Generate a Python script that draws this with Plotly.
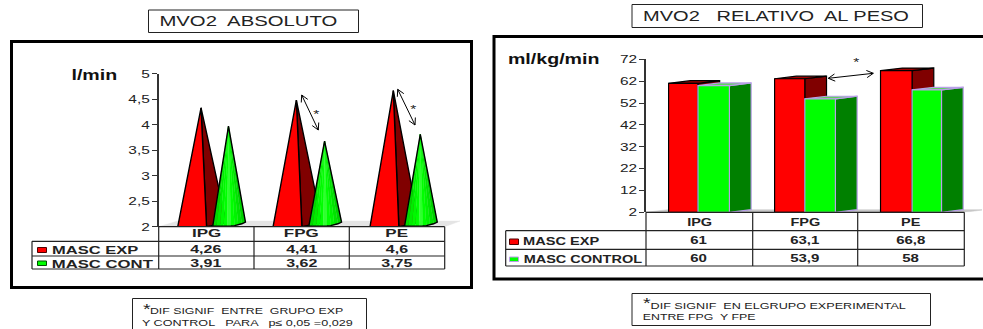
import json
import math
import plotly.graph_objects as go

W, H = 983, 329

categories = ["IPG", "FPG", "PE"]
abs_exp = [4.26, 4.41, 4.6]
abs_cont = [3.91, 3.62, 3.75]
rel_exp = [61, 63.1, 66.8]
rel_cont = [60, 53.9, 58]

abs_ticks = [2, 2.5, 3, 3.5, 4, 4.5, 5]
abs_ticktext = ["2", "2,5", "3", "3,5", "4", "4,5", "5"]
rel_ticks = [2, 12, 22, 32, 42, 52, 62, 72]

FONT = "Liberation Sans"
RED, DARK_RED = "#ff0000", "#800000"
GREEN, DARK_GREEN = "#00ff00", "#008000"
LAVENDER = "#b99fe8"
INK = "#222222"
CONE_SHADES = ["#00d800", "#00ec00", "#00f800", "#00ff00", "#30ff30",
               "#00ff00", "#00f400", "#00e400", "#00d000"]


def px(x):
    return x / W


def py(y):
    return 1 - y / H


def comma(v):
    return str(v).replace(".", ",")


fig = go.Figure()


def poly(xs, ys, fill, line, width, axes):
    fig.add_trace(go.Scatter(
        x=xs + xs[:1], y=ys + ys[:1], mode="lines", fill="toself",
        fillcolor=fill, line=dict(color=line, width=width),
        hoverinfo="skip", showlegend=False, xaxis=axes[0], yaxis=axes[1]))


# Left panel: cones standing on a grey floor
ABS = ("x", "y")
poly([0, 0.2, 3.16, 3.0], [2, 2.11, 2.11, 2], "#e4e4e4", "#e4e4e4", 0.5, ABS)
red_shift = [0, 0, 0.017]
green_shift = [0, 0.008, 0.012]
for i, (a, b) in enumerate(zip(abs_exp, abs_cont)):
    s = i + red_shift[i]
    tip = a + 0.07
    poly([s + 0.444, s + 0.502, s + 0.71], [tip, 2, 2.08], DARK_RED, "black", 1.4, ABS)
    poly([s + 0.2, s + 0.444, s + 0.502], [2, tip, 2], RED, "black", 1.4, ABS)

    s = i + green_shift[i]
    tip = b + 0.06
    left, right, top_x = s + 0.567, s + 0.91, s + 0.732
    n = len(CONE_SHADES)
    base = []
    for k in range(n + 1):
        t = k / n
        base.append((left + (right - left) * t, 2 + 0.012 * (1 - t) + 0.09 * t ** 4))
    for k, shade in enumerate(CONE_SHADES):
        poly([top_x, base[k][0], base[k + 1][0]], [tip, base[k][1], base[k + 1][1]],
             shade, shade, 0.3, ABS)
    outline_x = [p[0] for p in base] + [top_x, base[0][0]]
    outline_y = [p[1] for p in base] + [tip, base[0][1]]
    fig.add_trace(go.Scatter(x=outline_x, y=outline_y, mode="lines",
                             line=dict(color="black", width=1.4),
                             hoverinfo="skip", showlegend=False))

# Right panel: extruded bars
REL = ("x2", "y2")
DX, DY = 0.205, 1.2
poly([0, DX, 3.2, 3.0], [2, 2 + DY, 2 + DY, 2], "#c8c8c8", "#c8c8c8", 0.5, REL)
red_left = [0.213, 0.213, 0.2125]
split = [0.49, 0.498, 0.51]
green_right = [0.787, 0.787, 0.7875]


def bar(x0, x1, v, front, side, top, edge):
    poly([x1, x1 + DX, x1 + DX, x1], [2, 2 + DY, v + DY, v], side, edge, 1.2, REL)
    poly([x0, x0 + DX, x1 + DX, x1], [v, v + DY, v + DY, v], top, edge, 1.2, REL)
    poly([x0, x1, x1, x0], [2, 2, v, v], front, edge, 1.2, REL)


for i, (a, b) in enumerate(zip(rel_exp, rel_cont)):
    bar(i + red_left[i], i + split[i], a, RED, DARK_RED, "#a00000", "black")
    bar(i + split[i], i + green_right[i], b, GREEN, DARK_GREEN, "#60d060", LAVENDER)

shapes = []


def rect(x0, y0, x1, y1, color="black", width=1.0):
    shapes.append(dict(type="rect", xref="paper", yref="paper",
                       x0=px(x0), y0=py(y0), x1=px(x1), y1=py(y1),
                       line=dict(color=color, width=width)))


def seg(x0, y0, x1, y1, color=INK, width=1.2):
    shapes.append(dict(type="line", xref="paper", yref="paper",
                       x0=px(x0), y0=py(y0), x1=px(x1), y1=py(y1),
                       line=dict(color=color, width=width)))


def swatch(x0, y0, x1, y1, fill, edge):
    shapes.append(dict(type="rect", xref="paper", yref="paper",
                       x0=px(x0), y0=py(y0), x1=px(x1), y1=py(y1),
                       fillcolor=fill, line=dict(color=edge, width=1)))


def double_arrow(x0, y0, x1, y1, head=7.5, spread=0.5):
    seg(x0, y0, x1, y1, "black", 1)
    ang = math.atan2(y1 - y0, x1 - x0)
    for (xa, ya, base) in ((x0, y0, ang), (x1, y1, ang + math.pi)):
        for d in (-spread, spread):
            seg(xa, ya, xa + head * math.cos(base + d), ya + head * math.sin(base + d), "black", 1)


def table(xs, ys, left):
    for y in ys:
        seg(xs[0], y, xs[-1], y)
    for y in ys[1:]:
        seg(left, y, xs[0], y)
    for x in xs:
        seg(x, ys[0], x, ys[-1])
    seg(left, ys[1], left, ys[-1])


# Outer frames and caption boxes
rect(11.5, 41.5, 471.5, 287.5, "black", 3)
rect(494, 36.5, 995, 279, "black", 3)
rect(148.5, 10, 358.5, 32.5, "#222222", 1)
rect(632, 4.5, 922.5, 27.5, "#222222", 1)
rect(132.5, 298.5, 366.5, 340, "#222222", 1)
rect(632, 293.5, 930.5, 325.5, "#222222", 1)

abs_cells = [158.7, 254, 349.3, 444.7]
rel_cells = [646, 752.7, 857.7, 964.3]
table(abs_cells, [226.7, 241.3, 256, 269], 32)
table(rel_cells, [212.3, 230.7, 249.3, 266], 505.7)

swatch(37.5, 247.5, 46.5, 252.5, RED, "#500000")
swatch(37.5, 261, 46.5, 265.5, GREEN, "#005000")
swatch(509.5, 239, 518.5, 244.5, RED, "#500000")
swatch(509.5, 257, 518.5, 261.5, GREEN, LAVENDER)

double_arrow(301.7, 95, 318.3, 130)
double_arrow(397.7, 89.3, 415, 125)
double_arrow(828.3, 78.3, 873.3, 73.3)

notes = []
stretches = []


def label(text, x, y, size=10, bold=False, color=INK, stretch=1.4):
    notes.append(dict(text=f"<b>{text}</b>" if bold else text,
                      x=px(x), y=py(y), xref="paper", yref="paper",
                      xanchor="center", yanchor="middle", showarrow=False,
                      font=dict(family=FONT, size=size, color=color)))
    stretches.append(stretch)


label("MVO2  ABSOLUTO", 248.5, 21, 14, stretch=1.45)
label("MVO2   RELATIVO  AL PESO", 776, 16, 14, stretch=1.43)
label("l/min", 94, 74.5, 14, True, "#111111")
label("ml/kg/min", 553, 58.5, 14, True, "#111111")

abs_mid = [(abs_cells[i] + abs_cells[i + 1]) / 2 for i in range(3)]
rel_mid = [(rel_cells[i] + rel_cells[i + 1]) / 2 for i in range(3)]
for i, name in enumerate(categories):
    label(name, abs_mid[i], 233, 10, True, stretch=1.7)
    label(comma(abs_exp[i]), abs_mid[i], 249, 10, True, stretch=1.6)
    label(comma(abs_cont[i]), abs_mid[i], 263, 10, True, stretch=1.6)
    label(name, rel_mid[i], 222, 10, True, stretch=1.45)
    label(comma(rel_exp[i]), rel_mid[i], 240.5, 10, True, stretch=1.5)
    label(comma(rel_cont[i]), rel_mid[i], 258.5, 10, True, stretch=1.5)
label("MASC EXP", 95, 250, 10, True, stretch=1.65)
label("MASC CONT", 102, 264, 10, True, stretch=1.67)
label("MASC EXP", 561.5, 241.5, 10, True, stretch=1.46)
label("MASC CONTROL", 583, 259.5, 10, True, stretch=1.45)

label("*", 316, 114, 11)
label("*", 413.3, 109, 11)
label("*", 856.3, 62, 11)

label("*", 146.5, 309, 14)
label("DIF SIGNIF  ENTRE  GRUPO EXP", 247, 311, 9, stretch=1.37)
label("Y CONTROL   PARA   p≤ 0,05 =0,029", 248, 323, 9)
label("*", 647, 303, 14)
label("DIF SIGNIF  EN ELGRUPO EXPERIMENTAL", 778, 306, 9)
label("ENTRE FPG  Y FPE", 699, 317, 9, stretch=1.37)


def yaxis_style(top, bottom, rng, ticks, text):
    return dict(domain=[py(bottom), py(top)], range=rng, tickvals=ticks, ticktext=text,
                ticks="outside", ticklen=5, tickwidth=1.2, tickcolor="#333333",
                showline=True, linecolor="#333333", linewidth=1.5, showgrid=False,
                zeroline=False, fixedrange=True, automargin=False,
                tickfont=dict(family=FONT, size=11, color=INK))


fig.update_layout(
    width=W, height=H, autosize=False, margin=dict(l=0, r=0, t=0, b=0),
    paper_bgcolor="white", plot_bgcolor="rgba(0,0,0,0)", showlegend=False,
    xaxis=dict(domain=[px(158.7), px(158.7 + 3.2 * 95.33)], range=[0, 3.2], visible=False,
               fixedrange=True, automargin=False),
    yaxis=yaxis_style(73.7, 226.7, [2, 5], abs_ticks, abs_ticktext),
    xaxis2=dict(domain=[px(646), px(646 + 3.17 * 106)], range=[0, 3.17], visible=False,
                fixedrange=True, anchor="y2", automargin=False),
    yaxis2=yaxis_style(59.3, 212.3, [2, 72], rel_ticks, [str(t) for t in rel_ticks]) | dict(anchor="x2"),
    shapes=shapes, annotations=notes,
)

# Widen every label horizontally around its anchor
widen = """
var factors = %s;
function widen(el, k) {
  el.setAttribute('textLength', el.getComputedTextLength() * k);
  el.setAttribute('lengthAdjust', 'spacingAndGlyphs');
}
document.querySelectorAll('.annotation-text').forEach(function (el, i) { widen(el, factors[i]); });
document.querySelectorAll('.ytick text, .y2tick text').forEach(function (el) { widen(el, 1.4); });
""" % json.dumps(stretches)
fig.write_html("out.html", post_script=widen, config={"displayModeBar": False})
